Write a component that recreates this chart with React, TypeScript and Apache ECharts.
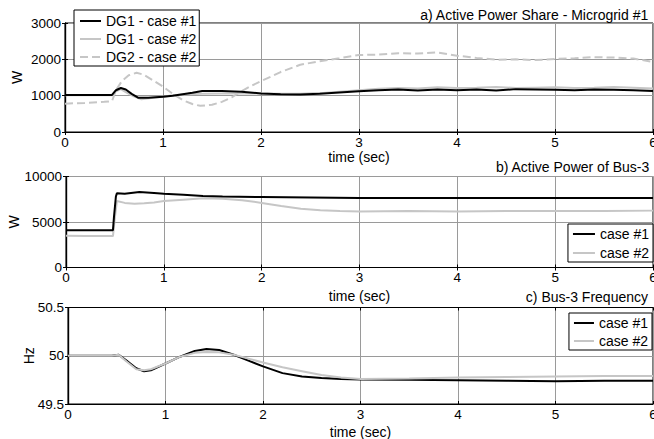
import React, { useEffect, useRef } from "react";
import * as echarts from "echarts";

// ---- Plot a) Active Power Share - Microgrid #1 ----
const aT1 = [0, 0.48, 0.52, 0.57, 0.62, 0.68, 0.75, 0.85, 1.0, 1.1, 1.2, 1.3, 1.4, 1.6, 1.8, 2.0, 2.2, 2.4, 2.6, 2.8, 3.0, 3.2, 3.4, 3.6, 3.8, 4.0, 4.2, 4.4, 4.6, 4.8, 5.0, 5.2, 5.4, 5.6, 5.8, 6.0];
const aDG1c1 = [1020, 1020, 1150, 1210, 1170, 1050, 940, 940, 970, 1000, 1040, 1080, 1130, 1130, 1110, 1060, 1040, 1030, 1050, 1090, 1120, 1150, 1170, 1140, 1170, 1150, 1170, 1140, 1180, 1170, 1160, 1150, 1170, 1160, 1150, 1130];
const aT2 = [0, 0.48, 0.52, 0.57, 0.62, 0.7, 0.78, 0.9, 1.0, 1.1, 1.2, 1.4, 1.6, 1.8, 2.0, 2.2, 2.4, 2.6, 2.8, 3.0, 3.2, 3.4, 3.6, 3.8, 4.0, 4.2, 4.4, 4.6, 4.8, 5.0, 5.2, 5.4, 5.6, 5.8, 6.0];
const aDG1c2 = [1010, 1010, 1120, 1180, 1100, 980, 900, 940, 970, 1010, 1030, 1050, 1060, 1060, 1060, 1050, 1050, 1070, 1110, 1150, 1190, 1210, 1200, 1230, 1210, 1220, 1240, 1210, 1220, 1230, 1210, 1220, 1240, 1220, 1200];
const aT3 = [0, 0.2, 0.4, 0.48, 0.52, 0.58, 0.65, 0.73, 0.8, 0.9, 1.0, 1.1, 1.2, 1.3, 1.38, 1.5, 1.6, 1.7, 1.8, 1.9, 2.0, 2.1, 2.2, 2.4, 2.6, 2.8, 3.0, 3.2, 3.4, 3.6, 3.8, 4.0, 4.2, 4.4, 4.6, 4.8, 5.0, 5.2, 5.4, 5.6, 5.8, 6.0];
const aDG2c2 = [780, 800, 830, 850, 1150, 1400, 1560, 1630, 1580, 1420, 1250, 1050, 880, 770, 720, 750, 830, 950, 1120, 1270, 1400, 1520, 1650, 1850, 1950, 2030, 2120, 2130, 2170, 2160, 2190, 2100, 2040, 1990, 2000, 1980, 2010, 2030, 2060, 2050, 2020, 1930];

// ---- Plot b) Active Power of Bus-3 ----
const bT1 = [0, 0.48, 0.49, 0.51, 0.52, 0.6, 0.75, 0.9, 1.0, 1.2, 1.4, 1.6, 2.0, 2.5, 3.0, 3.5, 4.0, 4.5, 5.0, 5.5, 6.0];
const bCase1 = [4100, 4100, 5500, 7800, 8150, 8100, 8300, 8200, 8100, 8000, 7850, 7800, 7750, 7700, 7650, 7650, 7650, 7650, 7650, 7650, 7650];
const bT2 = [0, 0.2, 0.48, 0.5, 0.52, 0.6, 0.7, 0.8, 0.9, 1.0, 1.2, 1.4, 1.6, 1.8, 2.0, 2.2, 2.4, 2.6, 2.8, 3.0, 3.5, 4.0, 4.5, 5.0, 5.5, 6.0];
const bCase2 = [3500, 3450, 3450, 5500, 7300, 7100, 7000, 7050, 7150, 7300, 7450, 7600, 7550, 7400, 7100, 6750, 6450, 6300, 6200, 6150, 6200, 6150, 6200, 6200, 6200, 6250];

// ---- Plot c) Bus-3 Frequency ----
const cT = [0, 0.45, 0.52, 0.6, 0.7, 0.78, 0.85, 1.0, 1.15, 1.3, 1.42, 1.55, 1.7, 1.85, 2.0, 2.2, 2.4, 2.6, 2.8, 3.0, 3.5, 4.0, 4.5, 5.0, 5.5, 6.0];
const cCase1 = [50.0, 50.0, 50.01, 49.95, 49.87, 49.84, 49.85, 49.92, 49.99, 50.05, 50.07, 50.06, 50.01, 49.95, 49.89, 49.82, 49.785, 49.77, 49.76, 49.755, 49.75, 49.745, 49.74, 49.735, 49.74, 49.74];
const cCase2 = [50.0, 50.0, 50.01, 49.94, 49.86, 49.85, 49.86, 49.92, 49.99, 50.03, 50.04, 50.035, 50.01, 49.97, 49.93, 49.88, 49.84, 49.8, 49.775, 49.76, 49.765, 49.775, 49.78, 49.785, 49.79, 49.79];

const xTicks = [0, 6, 1];
const titles = ["a) Active Power Share - Microgrid #1", "b) Active Power of Bus-3", "c) Bus-3 Frequency"];
const legendA = ["DG1 - case #1", "DG1 - case #2", "DG2 - case #2"];
const legendBC = ["case #1", "case #2"];

const FONT = "'Liberation Sans', Arial, sans-serif";
const BLACK = "#000000";
const GRAY = "#c6c6c6";
const GRID = "#9a9a9a";

const zip = (t: number[], v: number[]) => t.map((x, i) => [x, v[i]]);

export default function App() {
  const ref = useRef<HTMLDivElement>(null);
  useEffect(() => {
    if (!ref.current) return;
    const chart = echarts.init(ref.current, undefined, { renderer: "svg" });

    const grids = [
      { left: 65, top: 23, width: 588, height: 109 },
      { left: 66, top: 176.5, width: 587, height: 91 },
      { left: 68, top: 307.5, width: 585, height: 96.5 },
    ];
    const yCfg = [
      { min: 0, max: 3000, interval: 1000, name: "W", gap: 41 },
      { min: 0, max: 10000, interval: 5000, name: "W", gap: 45 },
      { min: 49.5, max: 50.5, interval: 0.5, name: "Hz", gap: 32 },
    ];
    const xNameGap = [18, 21, 21];

    const xAxis: any[] = [];
    const yAxis: any[] = [];
    for (let i = 0; i < 3; i++) {
      xAxis.push({
        gridIndex: i, type: "value", min: xTicks[0], max: xTicks[1], interval: xTicks[2],
        name: "time (sec)", nameLocation: "middle", nameGap: xNameGap[i], nameMoveOverlap: false,
        nameTextStyle: { fontSize: 14, color: BLACK, fontFamily: FONT },
        axisLine: { show: true, lineStyle: { color: BLACK, width: 1.2 } },
        axisTick: { show: true, inside: true, length: 3, lineStyle: { color: BLACK } },
        axisLabel: { margin: 3, fontSize: 13.5, color: BLACK, fontFamily: FONT, formatter: (v: number) => String(v) },
        splitLine: { show: true, lineStyle: { color: GRID, width: 1 } },
      });
      yAxis.push({
        gridIndex: i, type: "value", min: yCfg[i].min, max: yCfg[i].max, interval: yCfg[i].interval,
        name: yCfg[i].name, nameLocation: "middle", nameGap: yCfg[i].gap, nameMoveOverlap: false,
        nameTextStyle: { fontSize: 14, color: BLACK, fontFamily: FONT },
        axisLine: { show: true, lineStyle: { color: BLACK, width: 1.2 } },
        axisTick: { show: true, inside: true, length: 3, lineStyle: { color: BLACK } },
        axisLabel: { margin: 4, fontSize: 13.5, color: BLACK, fontFamily: FONT, formatter: (v: number) => String(v) },
        splitLine: { show: true, lineStyle: { color: GRID, width: 1 } },
      });
    }
    for (let i = 0; i < 3; i++) {
      xAxis.push({
        gridIndex: i, type: "value", position: "top", min: xTicks[0], max: xTicks[1], interval: xTicks[2],
        axisLine: { show: true, lineStyle: { color: BLACK, width: 1.2 } },
        axisTick: { show: true, inside: true, length: 3, lineStyle: { color: BLACK } },
        axisLabel: { show: false }, splitLine: { show: false },
      });
      yAxis.push({
        gridIndex: i, type: "value", position: "right", min: yCfg[i].min, max: yCfg[i].max, interval: yCfg[i].interval,
        axisLine: { show: true, lineStyle: { color: BLACK, width: 1.2 } },
        axisTick: { show: true, inside: true, length: 3, lineStyle: { color: BLACK } },
        axisLabel: { show: false }, splitLine: { show: false },
      });
    }

    const line = (name: string, gi: number, data: number[][], color: string, type: string = "solid", z = 2) => ({
      name, type: "line", xAxisIndex: gi, yAxisIndex: gi, data,
      showSymbol: false, symbol: "none", z,
      lineStyle: { color, width: 2, type },
      itemStyle: { color },
    });

    const legendBase = {
      orient: "vertical", itemWidth: 21, itemHeight: 14, itemGap: 4,
      borderColor: BLACK, borderWidth: 1, borderRadius: 0, backgroundColor: "#ffffff",
      selectedMode: false, z: 10,
      itemStyle: { opacity: 0, color: "transparent", borderWidth: 0 },
      textStyle: { fontSize: 14, color: BLACK, fontFamily: FONT, lineHeight: 14 },
    };

    chart.setOption({
      animation: false,
      backgroundColor: "#ffffff",
      textStyle: { fontFamily: FONT },
      title: [
        { text: titles[0], right: 5, top: 8, padding: 0, textStyle: { fontSize: 14, fontWeight: "normal", color: BLACK, fontFamily: FONT } },
        { text: titles[1], right: 4, top: 160, padding: 0, textStyle: { fontSize: 14, fontWeight: "normal", color: BLACK, fontFamily: FONT } },
        { text: titles[2], right: 6, top: 290, padding: 0, textStyle: { fontSize: 14, fontWeight: "normal", color: BLACK, fontFamily: FONT } },
      ],
      legend: [
        { ...legendBase, data: legendA, left: 74, top: 10, padding: [4, 3, 2, 5] },
        { ...legendBase, data: legendBC, right: 1, top: 224, itemWidth: 22, itemGap: 5, padding: [3, 4, 2, 4] },
        { ...legendBase, data: legendBC, right: 2, top: 313, itemWidth: 20, itemGap: 4, padding: [3, 4, 2, 4] },
      ],
      grid: grids.map((g) => ({ ...g, show: true, borderColor: BLACK, borderWidth: 1, backgroundColor: "#ffffff", containLabel: false, outerBoundsMode: "none" })),
      xAxis,
      yAxis,
      series: [
        line("DG2 - case #2", 0, zip(aT3, aDG2c2), GRAY, "dashed", 2),
        line("DG1 - case #2", 0, zip(aT2, aDG1c2), GRAY, "solid", 3),
        line("DG1 - case #1", 0, zip(aT1, aDG1c1), BLACK, "solid", 4),
        line("case #1", 1, zip(bT1, bCase1), BLACK, "solid", 4),
        line("case #2", 1, zip(bT2, bCase2), GRAY, "solid", 3),
        line("case #1", 2, zip(cT, cCase1), BLACK, "solid", 3),
        line("case #2", 2, zip(cT, cCase2), GRAY, "solid", 4),
      ],
    });
    return () => chart.dispose();
  }, []);
  return <div ref={ref} style={{ position: "absolute", left: 0, top: 0, width: 654, height: 439 }} />;
}
